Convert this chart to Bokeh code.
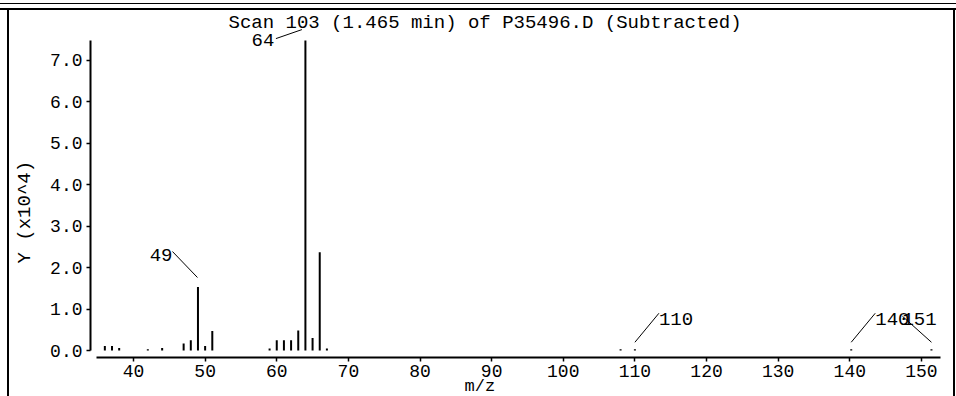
from bokeh.plotting import figure
from bokeh.models import Range1d, FixedTicker, ColumnDataSource, Title
from bokeh.core.properties import value
from bokeh.embed import file_html
from bokeh.resources import INLINE

# ---------------- data ----------------
TITLE = "Scan 103 (1.465 min) of P35496.D (Subtracted)"
X_LABEL = "m/z"
Y_LABEL = "Y (x10^4)"

mz = [36, 37, 38, 42, 44, 47, 48, 49, 50, 51,
      59, 60, 61, 62, 63, 64, 65, 66, 67,
      108, 110, 140.2, 151.4]
abundance = [0.11, 0.11, 0.06, 0.03, 0.06, 0.17, 0.25, 1.53, 0.11, 0.47,
             0.05, 0.25, 0.25, 0.25, 0.48, 7.48, 0.30, 2.37, 0.05,
             0.03, 0.03, 0.03, 0.03]

label_mz = [64, 49, 110, 140.2, 151.4]
label_text = ["64", "49", "110", "140", "151"]

x_ticks = [40, 50, 60, 70, 80, 90, 100, 110, 120, 130, 140, 150]
x_tick_labels = ["40", "50", "60", "70", "80", "90", "100", "110", "120", "130", "140", "150"]
y_ticks = [0, 1, 2, 3, 4, 5, 6, 7]
y_tick_labels = ["0.0", "1.0", "2.0", "3.0", "4.0", "5.0", "6.0", "7.0"]

# ---------------- layout / style ----------------
FONT = "Liberation Mono"
FS = "19px"          # titles and peak labels
FS_TICK = "18px"     # tick labels
FS_XLAB = "17px"     # x-axis title (sits at the bottom edge)
W, H = 956, 396
FL, FR, FT, FB = 90, 941, 27, 357      # frame edges in px
PXX = 7.163                             # px per m/z unit
PXY = 41.43                             # px per 1.0 (x10^4)
X0 = 40 - (133 - FL) / PXX
Y0 = -(FB - 350) / PXY
X1 = X0 + (FR - FL) / PXX
Y1 = Y0 + (FB - FT) / PXY


def data_x(px):
    return X0 + (px - FL) / PXX


# report-panel rules drawn behind the (transparent) plot border area
rules = [  # (position, size)
    ("7px 9px", "2px 400px"),
    ("953px 9px", "2px 400px"),
    ("0px 8px", "956px 2px"),
    ("0px 3px", "956px 1px"),
]
panel_styles = {
    "background-color": "white",
    "background-image": ", ".join(["linear-gradient(#000, #000)"] * len(rules)),
    "background-position": ", ".join(r[0] for r in rules),
    "background-size": ", ".join(r[1] for r in rules),
    "background-repeat": "no-repeat",
}

p = figure(width=W, height=H, output_backend="svg", toolbar_location=None, tools="",
           x_range=Range1d(X0, X1), y_range=Range1d(Y0, Y1),
           min_border_left=FL, min_border_right=W - FR,
           min_border_top=FT, min_border_bottom=H - FB,
           background_fill_color="white", border_fill_color="white", border_fill_alpha=0,
           outline_line_color=None, styles=panel_styles)
p.grid.visible = False

for ax in (p.xaxis[0], p.yaxis[0]):
    ax.axis_line_width = 2
    ax.axis_line_color = "black"
    ax.major_tick_line_color = "black"
    ax.major_tick_line_width = 1.5
    ax.major_tick_in = 0
    ax.major_tick_out = 4
    ax.minor_tick_line_color = None
    ax.major_label_text_font = FONT
    ax.major_label_text_font_size = FS_TICK
    ax.major_label_text_color = "black"

p.xaxis.ticker = FixedTicker(ticks=x_ticks)
p.xaxis.major_label_overrides = dict(zip(x_ticks, x_tick_labels))
p.xaxis.bounds = (data_x(96), data_x(940))
p.xaxis.major_label_standoff = 3

p.yaxis.ticker = FixedTicker(ticks=y_ticks)
p.yaxis.major_label_overrides = dict(zip(y_ticks, y_tick_labels))
p.yaxis.bounds = (0, max(abundance))
p.yaxis.major_label_standoff = 4

p.title.text = TITLE
p.title.text_font = FONT
p.title.text_font_size = FS
p.title.text_font_style = "normal"
p.title.text_color = "black"
p.title.align = "left"
p.title.offset = 228 - FL
p.title.standoff = -12

# axis titles (as side-panel titles so that they can be placed like the reference)
p.add_layout(Title(text=Y_LABEL, align="left", offset=FB - 263, vertical_align="middle",
                   standoff=22, text_font=FONT, text_font_size=FS,
                   text_font_style="normal", text_color="black"), "left")
p.add_layout(Title(text=X_LABEL, align="left", offset=464 - FL, vertical_align="bottom",
                   standoff=-10, text_font=FONT, text_font_size=FS_XLAB,
                   text_font_style="normal", text_color="black"), "below")

# spectrum sticks
src = ColumnDataSource(dict(mz=mz, ab=abundance))
p.segment(x0="mz", y0=0, x1="mz", y1="ab", source=src, line_color="black", line_width=2)

# peak labels with leader lines (offsets in px relative to the peak top; dy upward)
leader = {
    "64":  dict(s=(-3.5, 11), e=(-29.5, 2), t=(-31, 1), align="right"),
    "49":  dict(s=(-0.5, 9.6), e=(-25.5, 35.6), t=(-25.5, 32.6), align="right"),
    "110": dict(s=(0, 7), e=(24, 36), t=(24, 30.5), align="left"),
    "140": dict(s=(0, 7), e=(24, 36), t=(24, 30.5), align="left"),
    "151": dict(s=(0, 7), e=(-29, 33), t=(-29, 30.5), align="left"),
}
peak_height = dict(zip(mz, abundance))
seg = dict(x0=[], y0=[], x1=[], y1=[])
txt = {"left": dict(x=[], y=[], t=[]), "right": dict(x=[], y=[], t=[])}
for m, lab in zip(label_mz, label_text):
    h = peak_height[m]
    L = leader[lab]
    seg["x0"].append(m + L["s"][0] / PXX)
    seg["y0"].append(h + L["s"][1] / PXY)
    seg["x1"].append(m + L["e"][0] / PXX)
    seg["y1"].append(h + L["e"][1] / PXY)
    d = txt[L["align"]]
    d["x"].append(m + L["t"][0] / PXX)
    d["y"].append(h + L["t"][1] / PXY)
    d["t"].append(lab)

p.segment(x0="x0", y0="y0", x1="x1", y1="y1", source=ColumnDataSource(seg),
          line_color="black", line_width=1)
for align, d in txt.items():
    p.text(x="x", y="y", text="t", source=ColumnDataSource(d), text_align=align,
           text_baseline="middle", text_font=value(FONT), text_font_size=value(FS),
           text_color="black")

open("out.html", "w").write(file_html(p, INLINE))
